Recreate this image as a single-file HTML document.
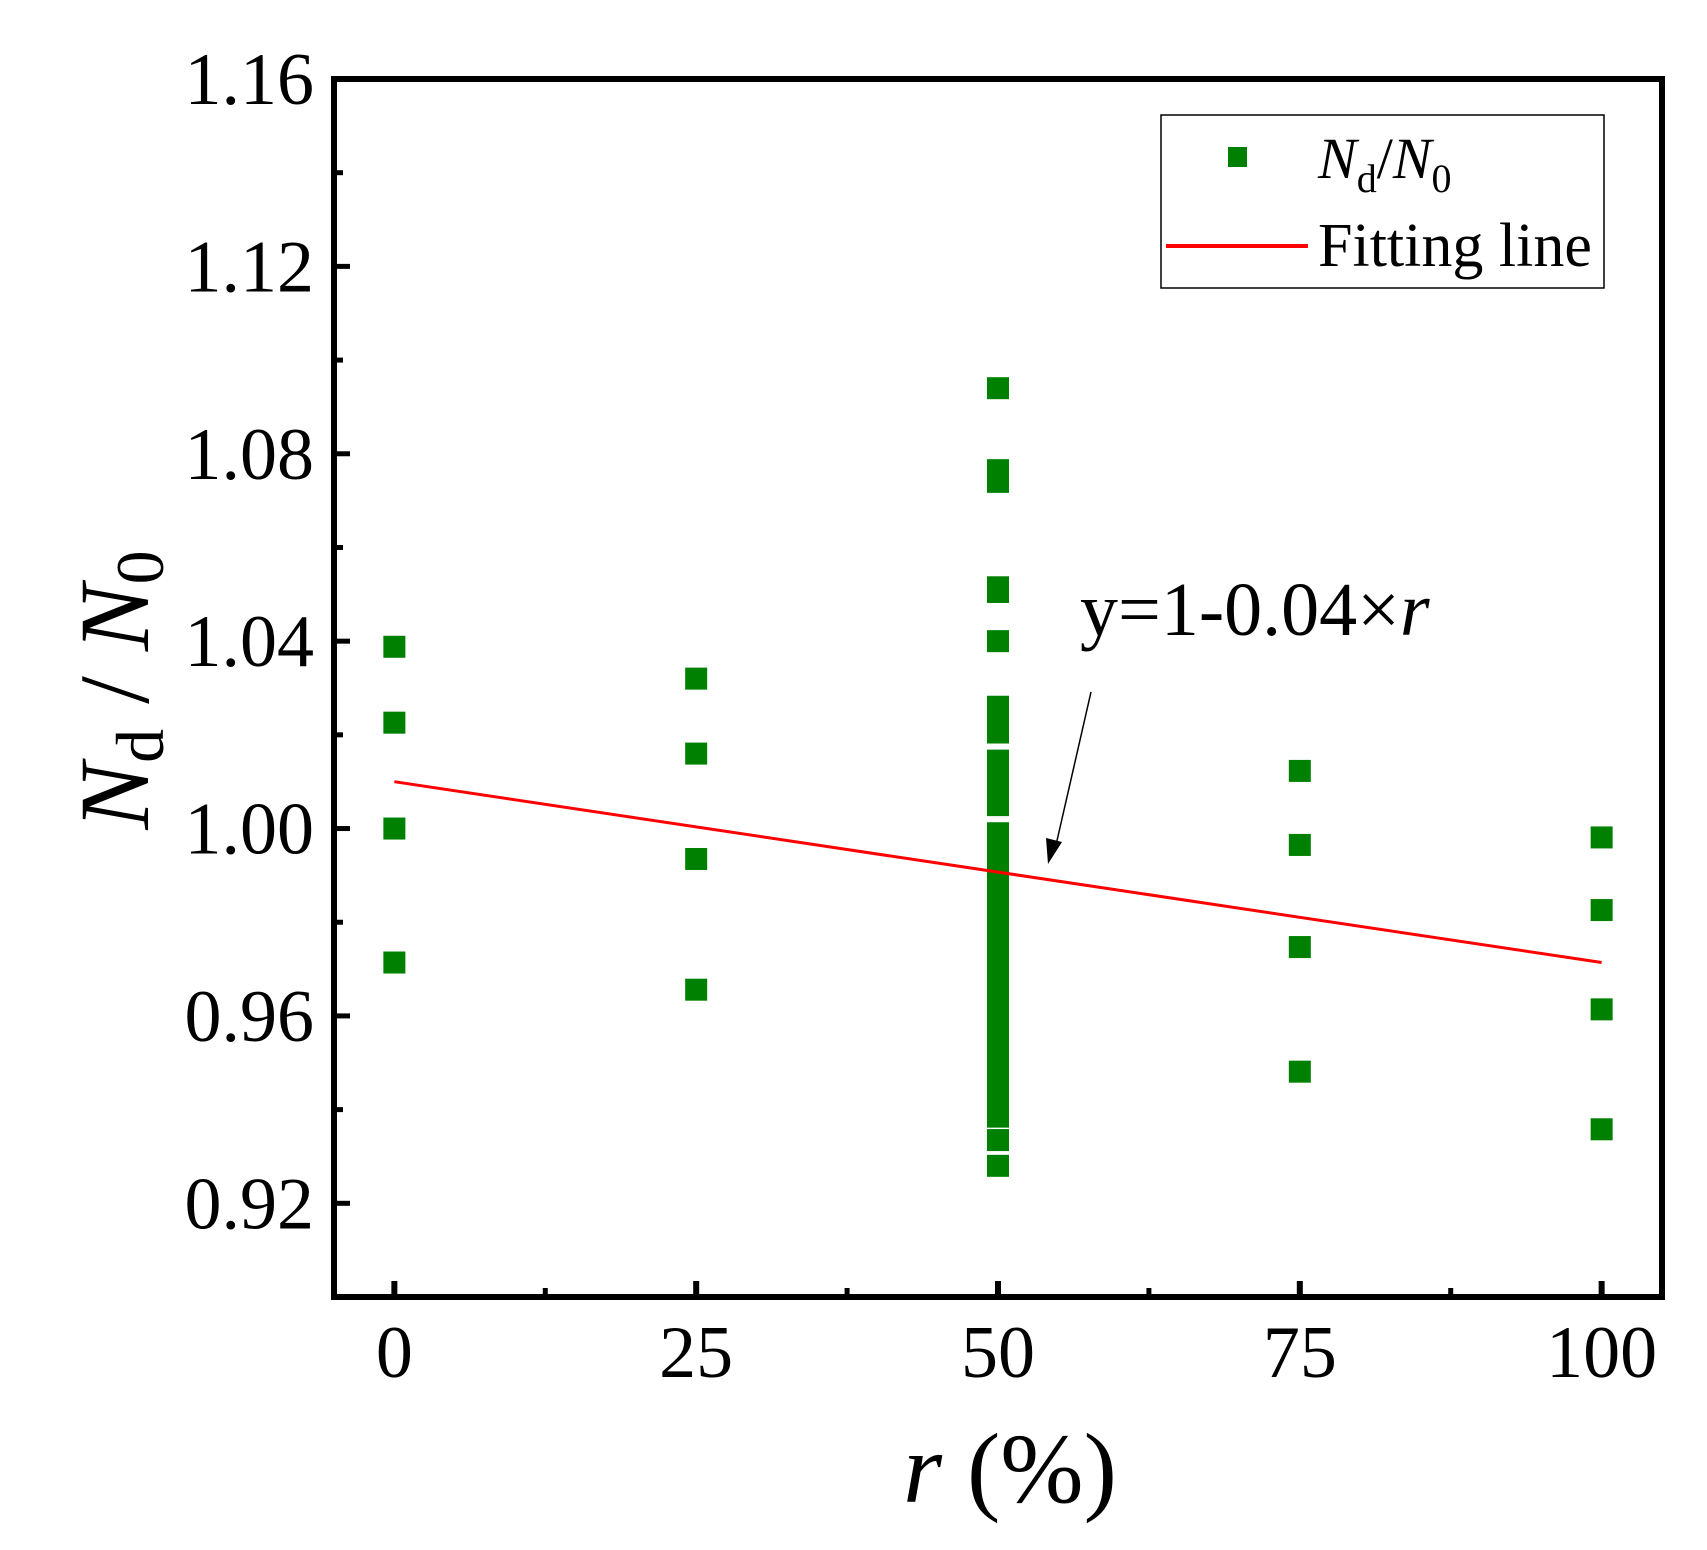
<!DOCTYPE html>
<html><head><meta charset="utf-8"><style>
html,body{margin:0;padding:0;background:#fff;}
svg{display:block;font-family:"Liberation Serif",serif;}
</style></head><body>
<svg id="chart" width="1707" height="1550" viewBox="0 0 1707 1550">
<g id="marks"></g>
<g id="axes"></g>
</svg>
<script>
const r0 = [1.0388, 1.0226, 1.0, 0.9714];
const r25 = [1.032, 1.016, 0.9935, 0.9656];
const r50 = [1.094,1.0765,1.074,1.0515,1.0505,1.040,1.026,1.023,1.0205,1.0145,1.0115,1.0085,1.005,0.999,
  0.995,0.993,0.990,0.988,0.986,0.984,0.982,0.980,0.978,0.976,0.974,0.972,0.970,0.968,0.966,0.964,0.962,
  0.960,0.958,0.956,0.954,0.952,0.950,0.948,0.946,0.944,0.942,0.940,0.9385,0.9335,0.928];
const r75 = [1.0123, 0.9965, 0.9747, 0.9481];
const r100 = [0.9981, 0.9826, 0.9614, 0.9358];
const groupX = [0, 25, 50, 75, 100];
const fitX = [0, 100];
const fitY = [1.010, 0.9714];
const xTicks = [0, 25, 50, 75, 100];
const yTicks = [0.92, 0.96, 1.00, 1.04, 1.08, 1.12, 1.16];
const yTickLabels = ["0.92","0.96","1.00","1.04","1.08","1.12","1.16"];

const L=334,R=1662,T=79,B=1297;
const xMin=-5,xMax=105,yMin=0.90,yMax=1.16;
const sx=v=>L+(v-xMin)/(xMax-xMin)*(R-L);
const sy=v=>B-(v-yMin)/(yMax-yMin)*(B-T);
const NS="http://www.w3.org/2000/svg";
function mk(tag,attrs,parent){const e=document.createElementNS(NS,tag);for(const k in attrs)e.setAttribute(k,attrs[k]);parent.appendChild(e);return e;}
const marks=document.getElementById('marks'), axes=document.getElementById('axes');

const groups=[r0,r25,r50,r75,r100];
groups.forEach((g,gi)=>{g.forEach((v,i)=>{
  const s=mk('rect',{x:sx(groupX[gi])-11,y:sy(v)-11,width:22,height:22,fill:'#008000'},marks);
  
  
});});
const fl=mk('line',{x1:sx(fitX[0]),y1:sy(fitY[0]),x2:sx(fitX[1]),y2:sy(fitY[1]),stroke:'#ff0000','stroke-width':3},marks);



const fr=mk('rect',{x:L,y:T,width:R-L,height:B-T,fill:'none',stroke:'#000','stroke-width':6},axes);


xTicks.forEach(v=>{
  mk('line',{x1:sx(v),y1:B,x2:sx(v),y2:B-16,stroke:'#000','stroke-width':6},axes);
  const mv=v+12.5; if(mv<xMax) mk('line',{x1:sx(mv),y1:B,x2:sx(mv),y2:B-9,stroke:'#000','stroke-width':5},axes);
  const t=mk('text',{x:sx(v),y:B+80,'text-anchor':'middle','font-size':74},axes);
  t.textContent=String(v);
  
  
});
yTicks.forEach((v,i)=>{
  mk('line',{x1:L,y1:sy(v),x2:L+16,y2:sy(v),stroke:'#000','stroke-width':5},axes);
  mk('line',{x1:L,y1:sy(v-0.02),x2:L+9,y2:sy(v-0.02),stroke:'#000','stroke-width':5},axes);
  const t=mk('text',{x:L-20,y:sy(v)+25,'text-anchor':'end','font-size':74},axes);
  t.textContent=yTickLabels[i];
  
  
});
</script>
<svg width="1707" height="1550" style="position:absolute;left:0;top:0">
<text x="1010" y="1502" text-anchor="middle" font-size="100" font-family="Liberation Serif,serif"><tspan font-style="italic">r</tspan> (%)</text>
<text transform="translate(148,690) rotate(-90)" text-anchor="middle" font-size="100" font-family="Liberation Serif,serif"><tspan font-style="italic">N</tspan><tspan font-size="68" dy="15">d</tspan><tspan dy="-15"> / </tspan><tspan font-style="italic">N</tspan><tspan font-size="68" dy="15">0</tspan></text>
<text x="1080" y="635" font-size="76" font-family="Liberation Serif,serif">y=1-0.04×<tspan font-style="italic">r</tspan></text>
<line x1="1091" y1="692" x2="1056" y2="845" stroke="#000" stroke-width="1.5"/>
<polygon points="1048,864 1046,838 1062,842" fill="#000"/>
<rect x="1161" y="115" width="443" height="173" fill="#fff" stroke="#000" stroke-width="1.5"/>
<rect x="1228" y="147" width="19" height="20" fill="#008000"/>
<text x="1318" y="178" font-size="58" font-family="Liberation Serif,serif"><tspan font-style="italic">N</tspan><tspan font-size="40" dy="14">d</tspan><tspan dy="-14">/</tspan><tspan font-style="italic">N</tspan><tspan font-size="40" dy="14">0</tspan></text>
<line x1="1166" y1="246" x2="1308" y2="246" stroke="#ff0000" stroke-width="4"/>
<text x="1318" y="266" font-size="62" font-family="Liberation Serif,serif">Fitting line</text>
</svg>
</body></html>
